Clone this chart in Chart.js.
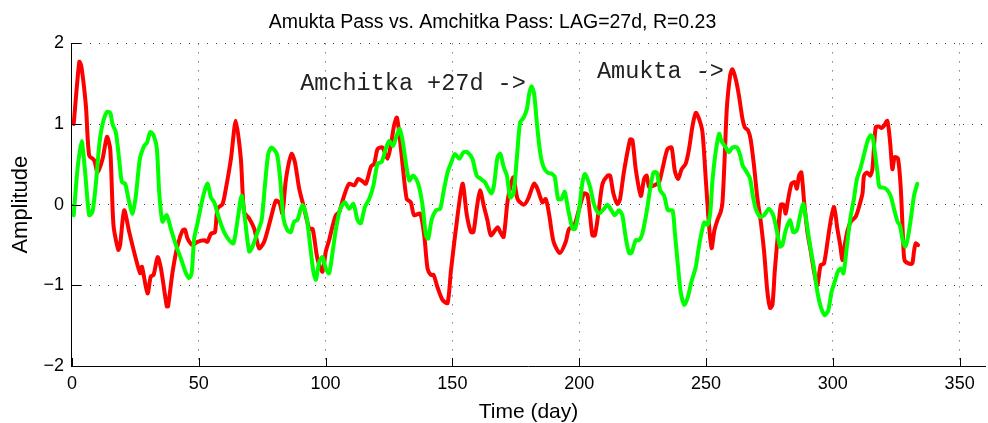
<!DOCTYPE html>
<html lang="en">
<head>
    <meta charset="UTF-8">
    <title>Amukta vs Amchitka</title>
    <script src="https://cdn.jsdelivr.net/npm/chart.js@4.4.1/dist/chart.umd.min.js"></script>
    <style>
        body { margin: 0; background: #fff; }
    </style>
</head>
<body>
<canvas id="mychart" width="988" height="423"></canvas>
<script>
// Amukta Pass (red)
const amuktaDay = [0.7,2.9,3.7,5.5,6.8,8.8,10.1,12.1,13.8,15.1,16.4,18.3,19.0,20.6,22.6,25.2,26.9,27.6,29.8,31.1,32.2,33.8,35.1,37.4,37.9,39.7,41.7,43.6,44.6,45.6,47.6,49.5,52.2,53.4,54.8,56.4,57.4,59.4,60.7,62.7,64.6,66.6,67.9,69.9,71.9,73.8,75.8,78.4,80.4,81.9,83.0,84.4,86.6,87.9,89.6,91.6,93.6,94.9,96.8,98.8,100.1,101.4,102.8,104.1,105.4,107.3,109.3,111.3,112.9,114.6,115.9,117.9,119.2,120.5,122.4,124.4,125.7,127.0,128.1,129.0,130.4,132.0,133.6,134.9,137.3,138.9,140.2,141.5,142.6,144.1,146.1,148.1,149.4,151.4,154.0,155.7,157.3,158.3,159.6,160.9,162.5,163.8,165.2,167.8,168.9,170.2,171.7,173.0,174.1,175.7,178.1,179.8,182.2,183.5,185.5,186.8,188.1,189.9,192.4,194.7,196.0,198.0,200.0,201.9,203.3,205.2,206.2,207.8,209.2,211.2,212.2,213.5,215.1,216.1,217.7,220.1,221.0,222.3,224.3,225.6,226.6,227.6,229.6,231.5,232.8,234.8,236.4,237.7,239.0,240.4,242.0,243.3,244.7,246.0,247.3,248.6,249.9,251.2,252.2,253.3,254.5,255.8,256.5,257.4,258.2,259.5,260.4,261.7,263.0,264.4,265.3,266.6,267.6,268.9,270.3,271.6,272.9,274.2,275.3,276.2,277.1,278.2,279.5,280.6,281.4,282.3,283.7,285.0,285.8,286.7,287.6,288.7,290.0,291.3,292.6,293.9,295.2,296.5,297.9,299.2,300.5,301.8,302.9,303.8,304.7,305.8,307.1,309.0,310.3,311.7,312.3,313.5,314.7,315.6,316.9,318.2,319.2,320.2,321.5,322.6,323.5,324.4,325.7,326.8,327.8,328.3,330.0,331.3,332.0,332.7,333.6];
const amuktaAmp = [1.0,1.77,1.72,1.23,0.61,0.55,0.40,0.57,0.84,0.69,-0.26,-0.56,-0.50,-0.07,-0.34,-0.67,-0.85,-0.77,-1.10,-0.89,-0.87,-0.65,-0.79,-1.26,-1.26,-0.83,-0.50,-0.32,-0.31,-0.42,-0.50,-0.46,-0.44,-0.46,-0.36,-0.34,-0.05,0.01,0.20,0.57,1.04,0.57,-0.09,-0.17,-0.30,-0.54,-0.46,-0.17,0.05,0.02,-0.11,0.32,0.63,0.53,0.20,-0.05,-0.30,-0.30,-0.67,-0.83,-0.58,-0.44,-0.26,-0.13,-0.09,0.11,0.26,0.24,0.32,0.29,0.26,0.47,0.51,0.69,0.71,0.57,0.73,0.98,1.08,0.90,0.49,0.07,0.03,-0.13,-0.11,-0.38,-0.79,-0.87,-0.87,-1.02,-1.18,-1.22,-0.83,-0.30,0.26,-0.13,-0.34,-0.34,-0.05,0.18,-0.03,-0.19,-0.38,-0.28,-0.34,-0.40,0.03,0.24,0.34,0.07,0.00,0.07,0.26,0.20,0.03,0.07,-0.11,-0.46,-0.60,-0.46,-0.30,-0.26,-0.05,0.14,0.12,-0.38,-0.38,-0.05,0.26,0.36,0.36,0.14,0.01,0.07,0.42,0.81,0.80,0.44,0.11,0.32,0.36,0.22,0.24,0.28,0.44,0.69,0.71,0.42,0.32,0.44,0.51,0.69,0.98,1.14,1.06,0.90,0.32,-0.26,-0.54,-0.32,-0.19,-0.09,0.03,0.61,1.19,1.60,1.68,1.56,1.35,1.06,0.96,0.92,0.81,0.49,0.07,-0.21,-0.58,-1.08,-1.28,-1.24,-0.83,-0.42,0.00,0.00,-0.11,0.05,0.26,0.28,0.20,0.36,0.40,0.03,-0.34,-0.58,-0.83,-1.00,-0.75,-0.73,-0.46,-0.19,-0.03,-0.30,-0.50,-0.69,-0.50,-0.32,-0.21,-0.15,-0.03,0.14,0.36,0.40,0.36,0.44,0.96,0.97,0.95,0.98,1.04,0.77,0.44,0.59,0.57,0.20,-0.50,-0.69,-0.73,-0.73,-0.58,-0.48,-0.50];

// Amchitka Pass shifted +27 days (green)
const amchitkaDay = [0.7,2.2,3.8,5.1,6.8,8.1,9.5,10.8,12.1,13.8,15.1,16.0,17.3,18.6,19.7,21.0,22.3,23.9,25.2,26.8,28.5,29.6,30.9,32.2,33.5,34.4,35.7,37.4,39.0,41.0,43.0,44.7,46.2,47.2,48.2,49.5,50.8,52.2,53.5,54.8,56.1,58.0,60.0,62.0,63.7,65.3,66.9,68.2,69.9,71.2,73.2,74.8,76.1,77.4,78.7,80.8,82.1,83.4,85.0,86.3,87.6,88.9,90.9,92.6,93.9,95.2,96.2,97.5,98.8,100.1,101.4,102.8,104.1,105.8,107.6,109.3,111.0,112.6,113.9,115.5,117.2,118.9,120.5,122.1,123.8,125.1,126.6,128.1,129.2,130.4,131.7,133.0,134.4,135.7,136.9,138.2,139.6,140.5,141.8,143.5,145.2,146.5,148.1,149.4,151.0,152.7,154.4,156.0,157.9,159.6,161.2,162.8,163.8,165.4,166.4,167.8,168.9,170.2,171.5,172.8,174.1,175.4,176.7,178.1,179.4,180.3,181.2,182.2,183.3,184.6,185.9,187.5,189.4,190.4,191.7,193.0,194.3,195.6,197.4,198.4,200.0,201.3,202.3,204.3,205.9,207.8,209.8,211.1,212.7,214.0,215.7,217.0,218.4,219.7,220.6,222.3,223.6,224.9,226.6,228.0,229.3,230.6,231.9,233.5,235.0,236.8,237.7,238.8,240.0,241.4,242.7,244.3,246.0,246.9,247.9,249.3,250.6,251.7,252.5,253.8,255.2,256.1,257.8,259.1,260.4,262.2,263.5,264.4,266.1,267.4,268.3,269.6,271.3,272.9,274.8,276.5,277.9,279.2,280.1,281.4,283.1,284.4,285.8,287.1,288.4,289.7,291.0,292.6,293.9,295.2,296.8,298.2,299.5,300.8,302.0,303.1,304.2,305.6,307.0,308.3,309.5,310.8,312.2,313.6,314.9,315.7,316.6,317.6,318.4,320.2,321.5,322.8,324.1,325.5,326.5,327.4,328.5,329.4,330.7,332.0,333.3];
const amchitkaAmp = [-0.13,0.44,0.79,0.44,-0.13,-0.09,0.28,0.75,1.00,1.15,1.14,1.00,0.90,0.57,0.28,0.26,0.07,-0.11,0.11,0.57,0.73,0.77,0.90,0.86,0.69,0.16,-0.21,-0.13,-0.30,-0.50,-0.67,-0.83,-0.91,-0.85,-0.42,-0.23,-0.03,0.16,0.26,0.09,0.03,-0.17,-0.34,-0.44,-0.48,-0.19,0.11,-0.17,-0.58,-0.52,-0.34,-0.19,0.24,0.63,0.71,0.63,0.32,-0.17,-0.32,-0.34,-0.21,-0.19,0.00,-0.17,-0.50,-0.83,-0.93,-0.71,-0.65,-0.79,-0.85,-0.58,-0.30,-0.05,0.03,-0.05,0.01,-0.19,-0.23,-0.03,0.07,0.24,0.51,0.53,0.70,0.79,0.73,0.86,0.94,0.79,0.51,0.30,0.36,0.32,0.22,0.00,-0.38,-0.42,-0.19,-0.07,-0.05,0.16,0.40,0.51,0.63,0.57,0.65,0.65,0.57,0.36,0.32,0.28,0.22,0.14,0.24,0.59,0.63,0.47,0.36,0.09,0.14,0.57,1.02,1.08,1.19,1.38,1.47,1.38,1.02,0.65,0.47,0.40,0.38,0.34,0.07,0.07,0.16,-0.05,-0.30,-0.30,-0.05,0.28,0.38,0.22,0.00,-0.11,-0.05,0.00,-0.07,-0.13,-0.07,-0.13,-0.42,-0.60,-0.60,-0.44,-0.44,-0.36,-0.09,0.20,0.40,0.40,0.18,0.11,-0.07,-0.07,-0.34,-0.71,-1.08,-1.24,-1.16,-0.95,-0.77,-0.58,-0.40,-0.22,-0.25,-0.09,0.28,0.65,0.88,0.79,0.71,0.65,0.71,0.71,0.61,0.49,0.40,0.32,0.14,-0.05,-0.15,-0.13,-0.05,-0.13,-0.32,-0.52,-0.50,-0.32,-0.19,-0.34,-0.32,-0.13,0.01,-0.23,-0.50,-0.79,-1.08,-1.26,-1.37,-1.31,-1.08,-0.95,-0.83,-0.79,-0.85,-0.50,-0.15,0.07,0.32,0.44,0.61,0.78,0.86,0.84,0.65,0.40,0.22,0.21,0.18,0.11,-0.05,-0.21,-0.26,-0.42,-0.52,-0.44,-0.19,0.11,0.26];

const xTicks = [0, 50, 100, 150, 200, 250, 300, 350];
const yTicks = [-2, -1, 0, 1, 2];

// text labels placed in data coordinates
const notes = [
    { text: 'Amchitka +27d ->', x: 90, y: 1.5 },
    { text: 'Amukta ->', x: 207, y: 1.65 }
];

function pts(xs, ys) {
    return xs.map((x, i) => ({ x: x, y: ys[i] }));
}

const fontFamily = '"Liberation Sans", Arial, Helvetica, sans-serif';

// inward tick marks + text notes
const extras = {
    id: 'extras',
    afterDraw(chart) {
        const ctx = chart.ctx;
        const xs = chart.scales.x, ys = chart.scales.y;
        const area = chart.chartArea;
        ctx.save();
        ctx.strokeStyle = '#000';
        ctx.lineWidth = 1;
        ctx.beginPath();
        xTicks.forEach(v => {
            const px = Math.round(xs.getPixelForValue(v)) + 0.5;
            ctx.moveTo(px, area.bottom);
            ctx.lineTo(px, area.bottom - 8);
        });
        yTicks.forEach(v => {
            const py = Math.round(ys.getPixelForValue(v)) + 0.5;
            ctx.moveTo(area.left, py);
            ctx.lineTo(area.left + 9, py);
        });
        ctx.stroke();

        ctx.fillStyle = '#222';
        ctx.font = '23.5px "Liberation Mono", "Courier New", monospace';
        ctx.textBaseline = 'middle';
        ctx.textAlign = 'left';
        notes.forEach(n => {
            ctx.fillText(n.text, xs.getPixelForValue(n.x), ys.getPixelForValue(n.y));
        });
        ctx.restore();
    }
};

const ctx = document.getElementById('mychart').getContext('2d');
const myChart = new Chart(ctx, {
    type: 'line',
    data: {
        datasets: [{
            label: 'Amchitka +27d',
            data: pts(amchitkaDay, amchitkaAmp),
            borderColor: '#00ff00',
            borderWidth: 4,
            pointRadius: 0,
            tension: 0.25,
            borderJoinStyle: 'round',
            borderCapStyle: 'round'
        }, {
            label: 'Amukta',
            data: pts(amuktaDay, amuktaAmp),
            borderColor: '#ff0000',
            borderWidth: 4,
            pointRadius: 0,
            tension: 0.25,
            borderJoinStyle: 'round',
            borderCapStyle: 'round'
        }]
    },
    options: {
        responsive: false,
        animation: false,
        layout: { padding: { left: 0, right: 3, top: 0, bottom: 0 } },
        plugins: {
            legend: { display: false },
            tooltip: { enabled: false },
            title: {
                display: true,
                text: 'Amukta Pass vs. Amchitka Pass: LAG=27d, R=0.23',
                color: '#000',
                font: { family: fontFamily, size: 19.5, weight: 'normal' },
                padding: { top: 11, bottom: 9 }
            }
        },
        scales: {
            x: {
                type: 'linear',
                min: 0,
                max: 360,
                afterBuildTicks: s => { s.ticks = xTicks.map(v => ({ value: v })); },
                ticks: {
                    color: '#000',
                    padding: 9,
                    maxRotation: 0,
                    font: { family: fontFamily, size: 18, lineHeight: 1.0 }
                },
                grid: {
                    color: '#444',
                    lineWidth: 1,
                    drawTicks: false
                },
                border: { display: true, color: '#000', width: 1, dash: [1, 8] },
                title: {
                    display: true,
                    text: 'Time (day)',
                    color: '#000',
                    font: { family: fontFamily, size: 21, lineHeight: 1.0 },
                    padding: { top: 0, bottom: 0 }
                }
            },
            y: {
                min: -2,
                max: 2,
                afterBuildTicks: s => { s.ticks = yTicks.map(v => ({ value: v })); },
                ticks: {
                    color: '#000',
                    padding: 8,
                    font: { family: fontFamily, size: 18 },
                    callback: v => String(v).replace('-', '\u2212')
                },
                grid: {
                    color: '#444',
                    lineWidth: 1,
                    drawTicks: false
                },
                border: { display: true, color: '#000', width: 1, dash: [1, 8] },
                title: {
                    display: true,
                    text: 'Amplitude',
                    color: '#000',
                    font: { family: fontFamily, size: 22 },
                    padding: { top: 8, bottom: 1 }
                }
            }
        }
    },
    plugins: [extras]
});
</script>
</body>
</html>
